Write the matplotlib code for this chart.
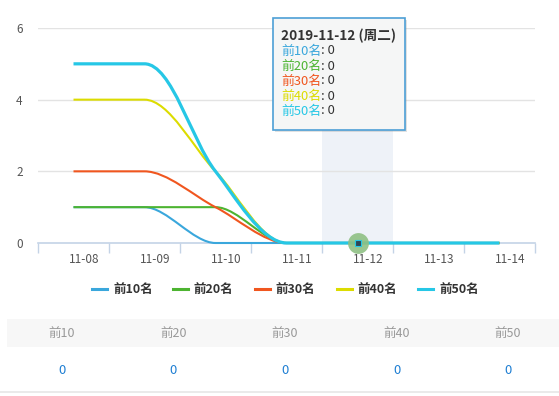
import math
import matplotlib
matplotlib.use('Agg')
import matplotlib.pyplot as plt
from matplotlib.path import Path
from matplotlib.patches import PathPatch, Rectangle
from matplotlib.lines import Line2D
from matplotlib.transforms import ScaledTranslation

plt.rcParams['font.family'] = ['Noto Sans CJK SC', 'DejaVu Sans']

# ---------------- data ----------------
categories = ['11-08', '11-09', '11-10', '11-11', '11-12', '11-13', '11-14']
series_names = ['前10名', '前20名', '前30名', '前40名', '前50名']
top10 = [1, 1, 0, 0, 0, 0, 0]
top20 = [1, 1, 1, 0, 0, 0, 0]
top30 = [2, 2, 1, 0, 0, 0, 0]
top40 = [4, 4, 2, 0, 0, 0, 0]
top50 = [5, 5, 2, 0, 0, 0, 0]
yticks = [0, 2, 4, 6]
hover_index = 4
tooltip_title = '2019-11-12 (周二)'
table_headers = ['前10', '前20', '前30', '前40', '前50']
table_values = ['0', '0', '0', '0', '0']

series_values = [top10, top20, top30, top40, top50]
colors = ['#3aa7dc', '#4db431', '#f0561f', '#dcdc00', '#26c7e6']
widths = [1.5, 1.5, 1.5, 1.5, 2.3]

W, H = 559, 396
DPI = 100
fig = plt.figure(figsize=(W / DPI, H / DPI), dpi=DPI)

# plot area in pixels
L, R, T, B = 38, 535, 28, 243
ax = fig.add_axes([L / W, 1 - B / H, (R - L) / W, (B - T) / H])
ax.set_xlim(-0.5, len(categories) - 0.5)
ax.set_ylim(0, 6)

sx = (R - L) / len(categories)
sy = (B - T) / 6.0


def smooth_path(xs, ys, smooth=0.3):
    P = [(x * sx, y * sy) for x, y in zip(xs, ys)]
    verts = [P[0]]
    codes = [Path.MOVETO]
    cp0 = P[0]
    n = len(P)
    for i in range(1, n):
        x, y = P[i]
        px, py = P[i - 1]
        if i == n - 1:
            cp1 = (x, y)
            nxt = None
        else:
            nx_, ny_ = P[i + 1]
            vx = nx_ - px
            vy = ny_ - py
            l0 = math.hypot(x - px, y - py)
            l1 = math.hypot(nx_ - x, ny_ - y)
            r = l1 / (l0 + l1)
            ncx = x + vx * smooth * r
            ncy = y + vy * smooth * r
            ncx = min(ncx, max(nx_, x)); ncy = min(ncy, max(ny_, y))
            ncx = max(ncx, min(nx_, x)); ncy = max(ncy, min(ny_, y))
            vx = ncx - x; vy = ncy - y
            c1x = x - vx * l0 / l1; c1y = y - vy * l0 / l1
            c1x = min(c1x, max(px, x)); c1y = min(c1y, max(py, y))
            c1x = max(c1x, min(px, x)); c1y = max(c1y, min(py, y))
            vx = x - c1x; vy = y - c1y
            ncx = x + vx * l1 / l0; ncy = y + vy * l1 / l0
            cp1 = (c1x, c1y)
            nxt = (ncx, ncy)
        verts += [cp0, cp1, (x, y)]
        codes += [Path.CURVE4] * 3
        cp0 = nxt
    verts = [(vx_ / sx, vy_ / sy) for vx_, vy_ in verts]
    return Path(verts, codes)


# highlight band
ax.axvspan(hover_index - 0.5, hover_index + 0.5, color='#eef2f8', zorder=0, lw=0)

# grid
for yv in yticks[1:]:
    ax.axhline(yv, color='#e3e3e3', lw=1, zorder=1)

xs = list(range(len(categories)))
for vals, c, lw in zip(series_values, colors, widths):
    p = smooth_path(xs, vals)
    ax.add_patch(PathPatch(p, fill=False, edgecolor=c, lw=lw, zorder=3,
                           clip_on=False, capstyle='butt', joinstyle='round'))

# hover marker
ax.plot([hover_index], [0], marker='o', ms=15, color='#8fc084', alpha=0.9,
        mec='none', zorder=5, clip_on=False)
ax.plot([hover_index], [0], marker='s', ms=4.5, color='#2f4656', mec='#26c7e6',
        mew=0.8, zorder=6, clip_on=False)

# axes styling
for s in ['top', 'right', 'left']:
    ax.spines[s].set_visible(False)
ax.spines['bottom'].set_color('#c4d3e6')
ax.spines['bottom'].set_linewidth(1.2)
ax.set_yticks(yticks)
ax.set_yticklabels([str(v) for v in yticks])
ax.tick_params(axis='y', length=0, pad=11, labelsize=8.5, labelcolor='#555555')
ax.set_xticks([i - 0.5 for i in range(len(categories) + 1)])
ax.set_xticklabels([])
ax.tick_params(axis='x', which='major', length=7.2, width=1, color='#c4d3e6',
               direction='out')
ax.set_xticks(xs, minor=True)
ax.set_xticklabels(categories, minor=True)
ax.tick_params(axis='x', which='minor', length=0, pad=7.5, labelsize=8.5,
               labelcolor='#555555')
off = ScaledTranslation(11 / DPI, 0, fig.dpi_scale_trans)
for lab in ax.get_xticklabels(minor=True):
    lab.set_transform(lab.get_transform() + off)

# overlay axes in pixel coordinates
ov = fig.add_axes([0, 0, 1, 1], zorder=10)
ov.set_xlim(0, W)
ov.set_ylim(H, 0)
ov.axis('off')
ov.patch.set_alpha(0)

# tooltip
tx0, ty0, tx1, ty1 = 273, 18, 405, 130
ov.add_patch(Rectangle((tx0 + 2, ty0 + 2), tx1 - tx0, ty1 - ty0,
                       facecolor='#888888', alpha=0.25, lw=0))
ov.add_patch(Rectangle((tx0, ty0), tx1 - tx0, ty1 - ty0, facecolor='#f5f6f6',
                       edgecolor='#4d9fd6', lw=1.2))
ov.text(281, 36, tooltip_title, fontsize=9.8, fontweight='bold', color='#333333',
        va='center', ha='left')
for k, (name, c, vals) in enumerate(zip(series_names, colors, series_values)):
    yy = 51 + k * 15
    t = ov.text(281, yy, name, fontsize=9.3, color=c, va='center', ha='left')
    fig.canvas.draw()
    bb = t.get_window_extent()
    x_end = bb.x1 * W / fig.bbox.width
    ov.text(x_end, yy, ': ' + str(vals[hover_index]), fontsize=9.3,
            color='#333333', va='center', ha='left')

# legend
leg_line_x = [92, 173, 255, 337, 418]
for name, c, lx in zip(series_names, colors, leg_line_x):
    ov.add_line(Line2D([lx, lx + 15], [289, 289], color=c, lw=2.2))
    ov.text(lx + 21, 289, name, fontsize=9, fontweight='bold', color='#333333',
            va='center', ha='left')

# table
ov.add_patch(Rectangle((7, 319), W - 7, 28, facecolor='#f7f7f7', lw=0))
col_x = [62, 173.5, 285, 396.5, 508]
for hx, h, v in zip(col_x, table_headers, table_values):
    ov.text(hx, 333, h, fontsize=9, color='#999999', ha='center', va='center')
    ov.text(hx, 371, v, fontsize=9.5, color='#1f7fd3', ha='center', va='center')
ov.add_line(Line2D([0, W], [392, 392], color='#e6e6e6', lw=1.2))

fig.savefig('out.png', dpi=DPI)
